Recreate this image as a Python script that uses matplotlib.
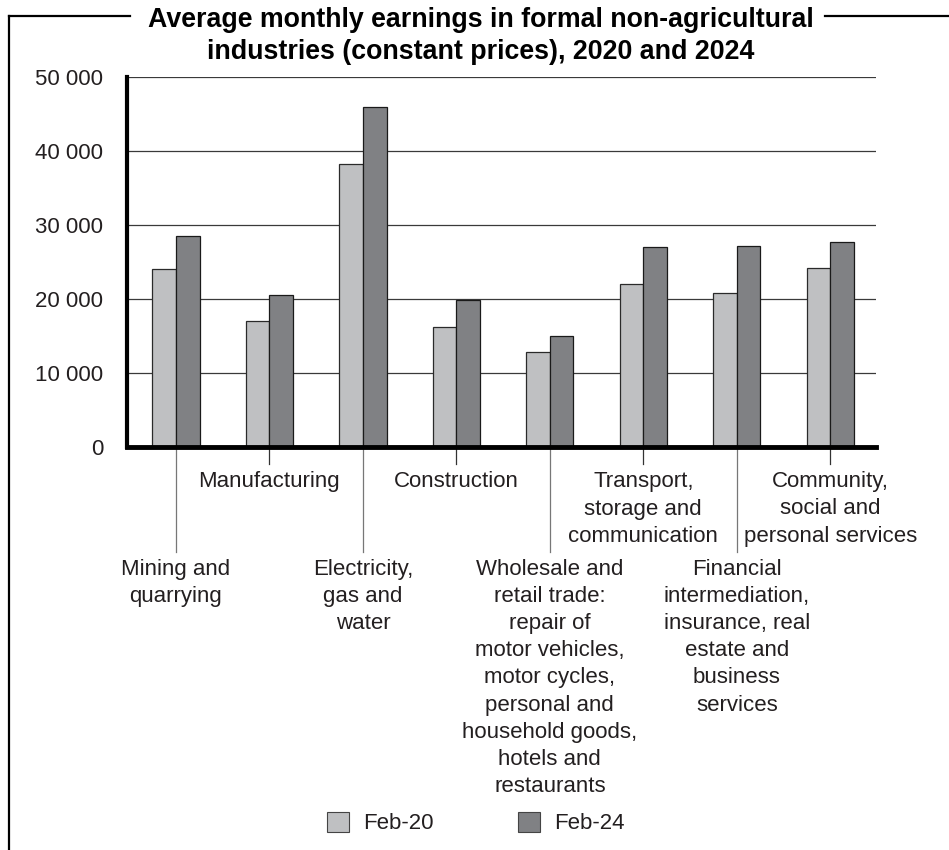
import numpy as np
import matplotlib
matplotlib.use("Agg")
import matplotlib.pyplot as plt
from matplotlib.lines import Line2D
from matplotlib.patches import Patch
from matplotlib.ticker import FuncFormatter

plt.rcParams["font.family"] = ["Liberation Sans", "DejaVu Sans"]

# data
categories = [
    "Mining and\nquarrying",
    "Manufacturing",
    "Electricity,\ngas and\nwater",
    "Construction",
    "Wholesale and\nretail trade:\nrepair of\nmotor vehicles,\nmotor cycles,\npersonal and\nhousehold goods,\nhotels and\nrestaurants",
    "Transport,\nstorage and\ncommunication",
    "Financial\nintermediation,\ninsurance, real\nestate and\nbusiness\nservices",
    "Community,\nsocial and\npersonal services",
]
feb20 = [24000, 17000, 38300, 16200, 12800, 22000, 20800, 24200]
feb24 = [28500, 20500, 46000, 19800, 15000, 27000, 27100, 27700]
series_names = ["Feb-20", "Feb-24"]
yticks = [0, 10000, 20000, 30000, 40000, 50000]

light = "#bfc0c2"
dark = "#808184"
text_col = "#231f20"

fig = plt.figure(figsize=(9.49, 8.5), dpi=100)
ax = fig.add_axes([127 / 949, (850 - 447) / 850, 749 / 949, 370 / 850])

x = np.arange(len(categories))
w = 0.253
ax.bar(x - w / 2, feb20, w, color=light, edgecolor="#2a2a2a", linewidth=0.9, zorder=3)
ax.bar(x + w / 2, feb24, w, color=dark, edgecolor="#1a1a1a", linewidth=0.9, zorder=3)

ax.set_xlim(-0.524, 7.49)
ax.set_ylim(0, 50000)
ax.set_yticks(yticks)
ax.yaxis.set_major_formatter(FuncFormatter(lambda v, p: f"{int(v):,}".replace(",", " ")))
ax.tick_params(axis="y", length=0, pad=17, labelsize=16, labelcolor=text_col)
ax.set_xticks([])
ax.yaxis.grid(True, color="#3a3a3a", linewidth=0.9)
ax.set_axisbelow(True)

for s in ["top", "right"]:
    ax.spines[s].set_visible(False)
ax.spines["left"].set_linewidth(3)
ax.spines["bottom"].set_linewidth(3.5)
ax.spines["left"].set_zorder(4)
ax.spines["bottom"].set_zorder(4)

# category labels, alternating high / low with leader lines
tr = ax.get_xaxis_transform()
for i, lab in enumerate(categories):
    if i % 2 == 0:
        ax.plot([i, i], [0, -0.284], transform=tr, color="#777777", lw=0.9, clip_on=False)
        ax.text(i, -0.303, lab, transform=tr, ha="center", va="top", fontsize=16,
                color=text_col, linespacing=1.38, multialignment="center")
    else:
        ax.plot([i, i], [0, -0.046], transform=tr, color="#333333", lw=0.9, clip_on=False)
        ax.text(i, -0.066, lab, transform=tr, ha="center", va="top", fontsize=16,
                color=text_col, linespacing=1.38, multialignment="center")

# title and frame
fig.text(481 / 949, (850 - 36) / 850,
         "Average monthly earnings in formal non-agricultural\nindustries (constant prices), 2020 and 2024",
         ha="center", va="center", fontsize=19.3, fontweight="bold", color="black", linespacing=1.3)

fy = (850 - 16) / 850
fx = 9 / 949
fig.add_artist(Line2D([fx, 130 / 949], [fy, fy], color="black", lw=1.6))
fig.add_artist(Line2D([825 / 949, 1.0], [fy, fy], color="black", lw=1.6))
fig.add_artist(Line2D([fx, fx], [0, fy], color="black", lw=1.6, solid_capstyle="projecting"))

handles = [Patch(facecolor=light, edgecolor="#444444", lw=0.8),
           Patch(facecolor=dark, edgecolor="#444444", lw=0.8)]
fig.legend(handles, series_names, loc="center", bbox_to_anchor=(0.501, 27 / 850), ncol=2,
           frameon=False, fontsize=16, handlelength=1.0, handleheight=1.0,
           handletextpad=0.63, columnspacing=3.8, labelcolor=text_col)

fig.savefig("out.png", dpi=100)
